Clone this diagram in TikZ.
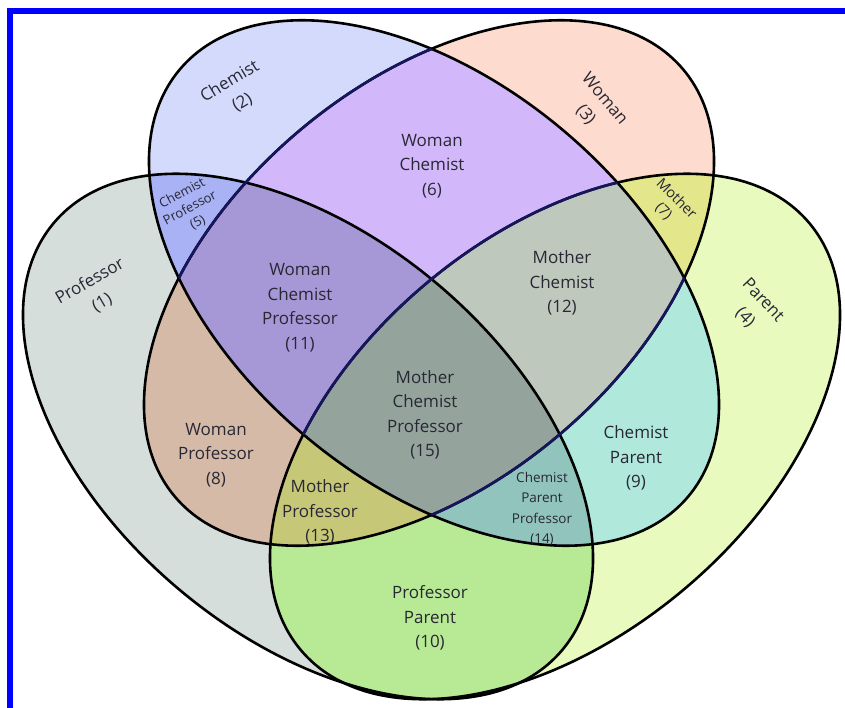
\documentclass[tikz,border=0pt]{standalone}
\usepackage{fontspec}
\setmainfont{Open Sans}
\definecolor{frameblue}{RGB}{0,0,255}
\definecolor{edgenavy}{RGB}{22,22,95}
\definecolor{labeltext}{RGB}{40,40,52}
\definecolor{r1}{RGB}{214,222,220}
\definecolor{r2}{RGB}{212,218,252}
\definecolor{r3}{RGB}{253,219,207}
\definecolor{r4}{RGB}{233,250,190}
\definecolor{r5}{RGB}{168,178,244}
\definecolor{r6}{RGB}{210,184,250}
\definecolor{r7}{RGB}{228,230,140}
\definecolor{r8}{RGB}{214,186,168}
\definecolor{r9}{RGB}{176,232,220}
\definecolor{r10}{RGB}{184,234,150}
\definecolor{r11}{RGB}{166,152,214}
\definecolor{r12}{RGB}{190,200,188}
\definecolor{r13}{RGB}{198,200,120}
\definecolor{r14}{RGB}{146,196,190}
\definecolor{r15}{RGB}{148,164,156}
\newcommand{\setoval}{(0,0) ellipse [x radius=332, y radius=200]}
\tikzset{
  chemist/.style={shift={(434,-283)}, rotate=-40},
  woman/.style={shift={(429,-283)}, rotate=40},
  professor/.style={shift={(308,-436.5)}, rotate=-40},
  parent/.style={shift={(555,-436.5)}, rotate=40},
  outline/.style={line width=2.6pt},
  lbl/.style={align=center, inner sep=0pt, text=labeltext, font=\fontsize{17}{24.5}\selectfont},
  smalllbl/.style={lbl, font=\fontsize{13}{16.5}\selectfont},
}
\begin{document}
\begin{tikzpicture}[x=1pt, y=1pt]
\useasboundingbox (0,0) rectangle (845,-708);
\fill[white] (0,0) rectangle (845,-708);
\fill[frameblue] (7,-8) rectangle (13,-708);
\fill[frameblue] (7,-8) rectangle (845,-14);

% single sets
\fill[r1, professor] \setoval;
\fill[r4, parent] \setoval;
\fill[r2, chemist] \setoval;
\fill[r3, woman] \setoval;

% pairs
\begin{scope} \clip[chemist] \setoval; \fill[r5, professor] \setoval; \end{scope}
\begin{scope} \clip[woman] \setoval; \fill[r6, chemist] \setoval; \end{scope}
\begin{scope} \clip[woman] \setoval; \fill[r7, parent] \setoval; \end{scope}
\begin{scope} \clip[woman] \setoval; \fill[r8, professor] \setoval; \end{scope}
\begin{scope} \clip[chemist] \setoval; \fill[r9, parent] \setoval; \end{scope}
\begin{scope} \clip[professor] \setoval; \fill[r10, parent] \setoval; \end{scope}

% triples
\begin{scope} \clip[woman] \setoval; \clip[chemist] \setoval; \fill[r11, professor] \setoval; \end{scope}
\begin{scope} \clip[woman] \setoval; \clip[chemist] \setoval; \fill[r12, parent] \setoval; \end{scope}
\begin{scope} \clip[woman] \setoval; \clip[professor] \setoval; \fill[r13, parent] \setoval; \end{scope}
\begin{scope} \clip[chemist] \setoval; \clip[professor] \setoval; \fill[r14, parent] \setoval; \end{scope}

% all four
\begin{scope} \clip[woman] \setoval; \clip[chemist] \setoval; \clip[professor] \setoval; \fill[r15, parent] \setoval; \end{scope}

% outlines
\draw[outline, professor] \setoval;
\draw[outline, parent] \setoval;
\draw[outline, chemist] \setoval;
\draw[outline, woman] \setoval;
\begin{scope}
  \clip[chemist] \setoval;
  \draw[outline, edgenavy, woman] \setoval;
  \draw[outline, edgenavy, parent] \setoval;
\end{scope}

% labels
\node[lbl, rotate=30] (professor) at (96,-292) {Professor\\(1)};
\node[lbl, rotate=31] (chemist) at (236,-92) {Chemist\\(2)};
\node[lbl, rotate=-50] (woman) at (595,-107) {Woman\\(3)};
\node[lbl, rotate=-47] (parent) at (754,-309) {Parent\\(4)};
\node[smalllbl, rotate=28] (chemprof) at (190,-208) {Chemist\\Professor\\(5)};
\node[lbl] (womchem) at (432,-166) {Woman\\Chemist\\(6)};
\node[lbl, font=\fontsize{14.5}{18}\selectfont, rotate=-45] (mother) at (670,-205) {Mother\\(7)};
\node[lbl] (womprof) at (216,-455) {Woman\\Professor\\(8)};
\node[lbl] (chempar) at (636,-458) {Chemist\\Parent\\(9)};
\node[lbl] (profpar) at (430,-618) {Professor\\Parent\\(10)};
\node[lbl] (womchemprof) at (300,-308) {Woman\\Chemist\\Professor\\(11)};
\node[lbl] (motherchem) at (562,-283) {Mother\\Chemist\\(12)};
\node[lbl] (motherprof) at (320,-512) {Mother\\Professor\\(13)};
\node[smalllbl, font=\fontsize{13.5}{20.5}\selectfont] (chemparprof) at (542,-509) {Chemist\\Parent\\Professor\\(14)};
\node[lbl] (motherchemprof) at (425,-415) {Mother\\Chemist\\Professor\\(15)};
\end{tikzpicture}
\end{document}
